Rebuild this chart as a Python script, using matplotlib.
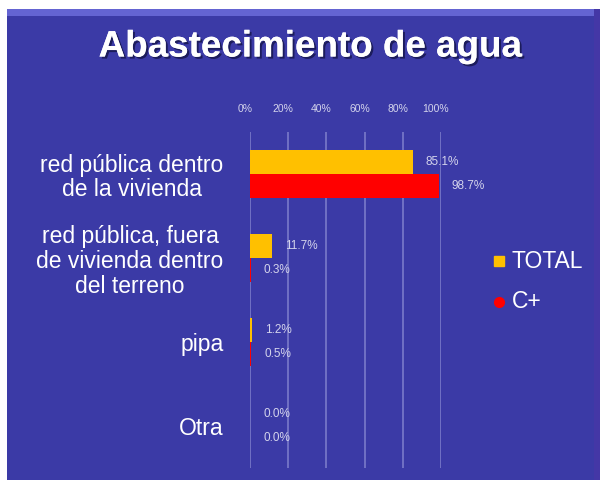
import matplotlib
matplotlib.use("Agg")
import matplotlib.pyplot as plt
import matplotlib.patheffects as pe
from matplotlib.patches import Rectangle
from matplotlib.transforms import ScaledTranslation
import numpy as np

plt.rcParams['font.family'] = ['Liberation Sans', 'DejaVu Sans']

# Data
categories = ["red pública dentro\nde la vivienda",
              "red pública, fuera\nde vivienda dentro\ndel terreno",
              "pipa",
              "Otra"]
total = [85.1, 11.7, 1.2, 0.0]
cplus = [98.7, 0.3, 0.5, 0.0]
series_names = ["TOTAL", "C+"]
tick_values = [0, 20, 40, 60, 80, 100]
tick_labels = ["0%", "20%", "40%", "60%", "80%", "100%"]
title = "Abastecimiento de agua"

W, H = 604, 483
fig = plt.figure(figsize=(W / 100, H / 100), dpi=100, facecolor="white")

# Slide background
slide_col = "#3b3aa6"
fig.patches.append(Rectangle((7 / W, 1 - 480 / H), 593 / W, 471 / H,
                             transform=fig.transFigure, facecolor=slide_col,
                             edgecolor="none", zorder=-3))
fig.patches.append(Rectangle((7 / W, 1 - 16 / H), 593 / W, 7 / H,
                             transform=fig.transFigure, facecolor="#6464d2",
                             edgecolor="none", zorder=-2))
fig.patches.append(Rectangle((594 / W, 1 - 480 / H), 6 / W, 471 / H,
                             transform=fig.transFigure, facecolor="#4437a6",
                             edgecolor="none", zorder=-2))

# Title
fig.text(310 / W, 1 - 47 / H, title, ha="center", va="center",
         fontsize=26.5, fontweight="bold", color="white",
         path_effects=[pe.withSimplePatchShadow(offset=(1.5, -1.5),
                                                shadow_rgbFace="#15154a",
                                                alpha=0.8),
                       pe.Normal()])

# Plot area
ax = fig.add_axes([250 / W, 1 - 468 / H, 191 / W, 336 / H])
ax.set_facecolor("none")
for s in ax.spines.values():
    s.set_visible(False)

y = np.arange(len(categories))
bh = 0.287
yellow, red = "#ffc000", "#ff0000"
ax.barh(y - bh / 2, total, height=bh, color=yellow, zorder=3, label=series_names[0])
ax.barh(y + bh / 2, cplus, height=bh, color=red, zorder=3, label=series_names[1])

ax.set_xlim(0, 100)
ax.set_ylim(len(categories) - 0.5, -0.5)

# Gridlines
ax.set_xticks(tick_values)
ax.grid(axis="x", color="#8080cc", linewidth=1.1, zorder=1)
ax.set_axisbelow(True)

# Top tick labels
ax.xaxis.tick_top()
ax.set_xticklabels(tick_labels, fontsize=7.5, color="#d4d4ec")
ax.tick_params(axis="x", length=0, pad=13)
shift = ScaledTranslation(-5 / 100, 0, fig.dpi_scale_trans)
for lab in ax.get_xticklabels():
    lab.set_transform(lab.get_transform() + shift)

# Category labels
ax.set_yticks(y)
ax.set_yticklabels(categories, fontsize=16.5, color="white", linespacing=1.1)
ax.tick_params(axis="y", length=0, pad=19)
for lab in ax.get_yticklabels():
    lab.set_multialignment("center")

# Value labels
for vals, off in ((total, -bh / 2), (cplus, bh / 2)):
    for yi, v in zip(y, vals):
        ax.annotate(f"{v:.1f}%", xy=(v, yi + off), xytext=(9.4, 0),
                    textcoords="offset points", ha="left", va="center",
                    fontsize=8.5, color="#d4d4ec", zorder=4)

# Legend
fig.lines.append(plt.Line2D([499 / W], [1 - 261 / H], marker="s", markersize=7,
                            color=yellow, linestyle="none",
                            transform=fig.transFigure))
fig.lines.append(plt.Line2D([499 / W], [1 - 302 / H], marker="o", markersize=7,
                            color=red, linestyle="none",
                            transform=fig.transFigure))
fig.text(512 / W, 1 - 261 / H, series_names[0], ha="left", va="center",
         fontsize=16.5, color="white")
fig.text(512 / W, 1 - 302 / H, series_names[1], ha="left", va="center",
         fontsize=16.5, color="white")

fig.savefig("out.png", dpi=100, facecolor="white")
